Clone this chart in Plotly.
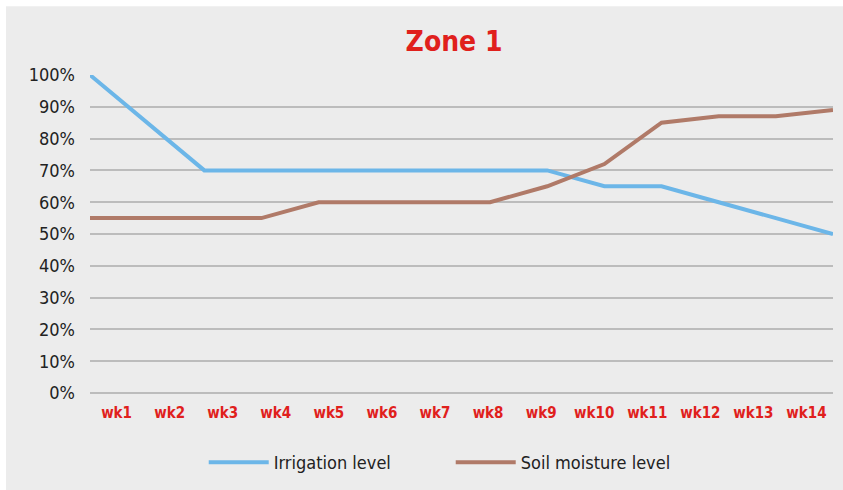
import plotly.graph_objects as go

weeks = ["wk1", "wk2", "wk3", "wk4", "wk5", "wk6", "wk7", "wk8", "wk9", "wk10", "wk11", "wk12", "wk13", "wk14"]
irrigation = [100, 85, 70, 70, 70, 70, 70, 70, 70, 65, 65, 60, 55, 50]
soil_moisture = [55, 55, 55, 55, 60, 60, 60, 60, 65, 72, 85, 87, 87, 89]
y_ticks = [0, 10, 20, 30, 40, 50, 60, 70, 80, 90, 100]
y_tick_labels = [f"{v}%" for v in y_ticks]

idx = list(range(len(weeks)))
FONT = "DejaVu Sans Condensed, Roboto, sans-serif"

fig = go.Figure()
fig.add_trace(go.Scatter(x=idx, y=irrigation, mode="lines", name="Irrigation level",
                         line=dict(color="#6cb6e8", width=4)))
fig.add_trace(go.Scatter(x=idx, y=soil_moisture, mode="lines", name="Soil moisture level",
                         line=dict(color="#b07a68", width=4)))
# invisible trace to carry the category label axis
fig.add_trace(go.Scatter(x=idx, y=[None] * len(idx), xaxis="x2", showlegend=False,
                         hoverinfo="skip", mode="lines"))

fig.update_layout(
    width=843, height=490,
    margin=dict(l=90, r=10, t=75, b=96),
    paper_bgcolor="white",
    plot_bgcolor="#ececec",
    font=dict(family=FONT, color="#222222"),
    title=dict(text="<b>Zone 1</b>", xref="paper", x=0.49, xanchor="center", y=0.915, yanchor="middle",
               font=dict(family=FONT, size=28, color="#e0201c")),
    xaxis=dict(range=[0, len(weeks) - 1], showticklabels=False, showgrid=False,
               zeroline=False, showline=False, fixedrange=True),
    xaxis2=dict(overlaying="x", side="bottom", range=[-0.5, len(weeks) - 0.5],
                tickvals=idx, ticktext=weeks, showgrid=False, zeroline=False,
                showline=False, ticks="", ticklabelstandoff=9,
                tickfont=dict(family=FONT, size=15, color="#e0201c", weight="bold")),
    yaxis=dict(range=[0, 100], tickvals=y_ticks, ticktext=y_tick_labels,
               gridcolor="#bcbcbc", gridwidth=1.5, zeroline=True, zerolinecolor="#bcbcbc",
               zerolinewidth=1.5, showline=False, ticks="", ticklabelstandoff=14,
               tickfont=dict(family=FONT, size=18, color="#222222")),
    legend=dict(orientation="h", x=0.4855, xanchor="center", y=-0.215, yanchor="middle",
                font=dict(family=FONT, size=18, color="#222222"),
                bgcolor="rgba(0,0,0,0)", itemwidth=60, entrywidth=172),
    shapes=[dict(type="rect", xref="paper", yref="paper",
                 x0=-84 / 743, x1=1.02, y0=-0.31, y1=(394 - 6) / 319,
                 fillcolor="#ececec", line=dict(width=0), layer="below")],
)

fig.write_html("out.html", config={"displayModeBar": False},
               post_script="document.body.style.margin='0';")
